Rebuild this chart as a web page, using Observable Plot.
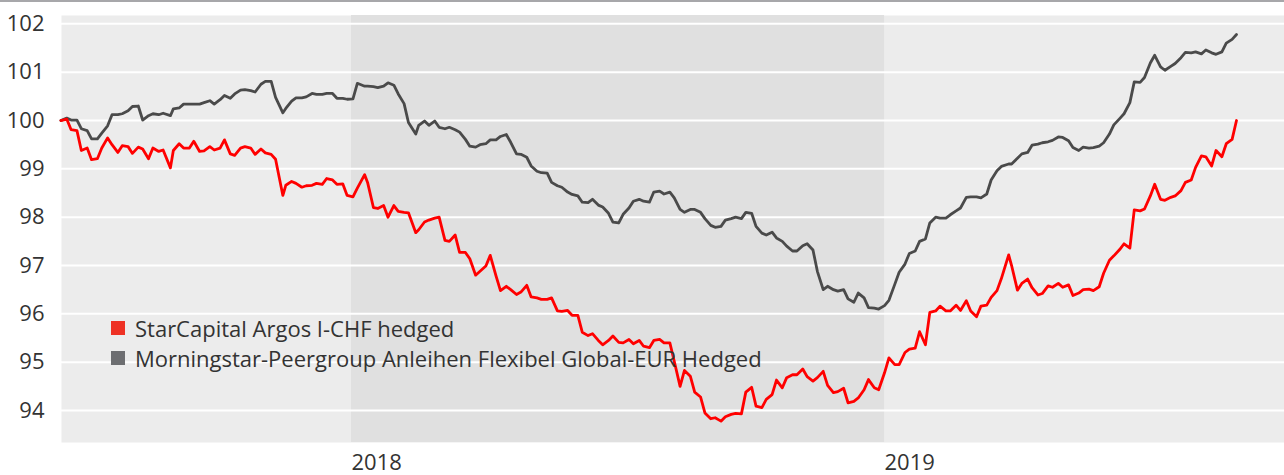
<!DOCTYPE html>
<html><head><meta charset="utf-8">
<script src="https://cdn.jsdelivr.net/npm/d3@7"></script>
<script src="https://cdn.jsdelivr.net/npm/@observablehq/plot@0.6"></script>
<style>
body{margin:0;background:#fff;font-family:"Open Sans",sans-serif;}
#wrap{position:relative;width:1284px;height:475px;overflow:hidden;}
#topline{position:absolute;left:0;top:0;width:1284px;height:2px;background:#a7a7aa;}
#legend{position:absolute;left:111px;top:313px;font-size:22px;color:#333;line-height:30px;}
.item{display:flex;align-items:center;height:30px;}
.sw{width:14px;height:14px;margin-right:10px;flex:none;}
</style></head><body>
<div id="wrap"><div id="chart"></div><div id="topline"></div><div id="legend"></div></div>
<script>
const seriesNames = ["StarCapital Argos I-CHF hedged", "Morningstar-Peergroup Anleihen Flexibel Global-EUR Hedged"];
const seriesColors = ["#ff0000", "#4a4a4a"];
const legendColors = ["#ee3124", "#6d6e71"];
const yTicks = [94, 95, 96, 97, 98, 99, 100, 101, 102];
const xTickYears = ["2018", "2019"];
const shadedYear = ["2018-01-01", "2019-01-01"];

// one line per month
const dates = [
"2017-06-16","2017-06-20","2017-06-23","2017-06-27","2017-06-30",
"2017-07-04","2017-07-07","2017-07-11","2017-07-14","2017-07-18","2017-07-21","2017-07-25","2017-07-28",
"2017-08-01","2017-08-04","2017-08-08","2017-08-11","2017-08-15","2017-08-18","2017-08-22","2017-08-25","2017-08-30",
"2017-09-01","2017-09-05","2017-09-08","2017-09-12","2017-09-15","2017-09-19","2017-09-22","2017-09-26","2017-09-29",
"2017-10-03","2017-10-06","2017-10-10","2017-10-13","2017-10-17","2017-10-20","2017-10-24","2017-10-27","2017-10-31",
"2017-11-03","2017-11-07","2017-11-10","2017-11-15","2017-11-17","2017-11-21","2017-11-24","2017-11-28",
"2017-12-01","2017-12-05","2017-12-08","2017-12-12","2017-12-15","2017-12-19","2017-12-22","2017-12-26","2017-12-29",
"2018-01-02","2018-01-05","2018-01-10","2018-01-12","2018-01-16","2018-01-19","2018-01-23","2018-01-26","2018-01-30",
"2018-02-02","2018-02-06","2018-02-09","2018-02-14","2018-02-16","2018-02-20","2018-02-23","2018-02-27",
"2018-03-02","2018-03-06","2018-03-09","2018-03-13","2018-03-16","2018-03-20","2018-03-23","2018-03-27","2018-03-30",
"2018-04-03","2018-04-06","2018-04-10","2018-04-13","2018-04-17","2018-04-20","2018-04-24","2018-04-27",
"2018-05-01","2018-05-04","2018-05-08","2018-05-11","2018-05-15","2018-05-18","2018-05-22","2018-05-25","2018-05-29",
"2018-06-01","2018-06-05","2018-06-08","2018-06-12","2018-06-15","2018-06-19","2018-06-22","2018-06-26","2018-06-29",
"2018-07-03","2018-07-06","2018-07-10","2018-07-13","2018-07-17","2018-07-20","2018-07-24","2018-07-27","2018-07-31",
"2018-08-03","2018-08-07","2018-08-10","2018-08-14","2018-08-17","2018-08-21","2018-08-24","2018-08-28","2018-08-31",
"2018-09-04","2018-09-07","2018-09-11","2018-09-14","2018-09-18","2018-09-21","2018-09-25","2018-09-28",
"2018-10-02","2018-10-05","2018-10-09","2018-10-12","2018-10-16","2018-10-19","2018-10-23","2018-10-26","2018-10-30",
"2018-11-02","2018-11-06","2018-11-09","2018-11-13","2018-11-16","2018-11-20","2018-11-23","2018-11-27","2018-11-30",
"2018-12-04","2018-12-07","2018-12-11","2018-12-14","2018-12-18","2018-12-21","2018-12-25","2018-12-28",
"2019-01-01","2019-01-04","2019-01-08","2019-01-11","2019-01-15","2019-01-18","2019-01-22","2019-01-25","2019-01-29",
"2019-02-01","2019-02-05","2019-02-08","2019-02-12","2019-02-15","2019-02-19","2019-02-22","2019-02-26",
"2019-03-01","2019-03-05","2019-03-08","2019-03-12","2019-03-15","2019-03-19","2019-03-22","2019-03-27","2019-03-29",
"2019-04-02","2019-04-05","2019-04-09","2019-04-12","2019-04-16","2019-04-19","2019-04-23","2019-04-26","2019-04-30",
"2019-05-03","2019-05-07","2019-05-10","2019-05-14","2019-05-17","2019-05-21","2019-05-24","2019-05-28","2019-05-31",
"2019-06-04","2019-06-07","2019-06-11","2019-06-14","2019-06-18","2019-06-21","2019-06-25","2019-06-28",
"2019-07-02","2019-07-05","2019-07-09","2019-07-12","2019-07-16","2019-07-19","2019-07-23","2019-07-26","2019-07-30",
"2019-08-02","2019-08-06","2019-08-09","2019-08-13","2019-08-16","2019-08-20","2019-08-23","2019-08-27","2019-08-30"
];

const starCapital = [
100.00,100.03,99.81,99.79,99.38,
99.43,99.19,99.21,99.43,99.64,99.50,99.34,99.48,
99.46,99.32,99.45,99.41,99.21,99.43,99.36,99.39,99.02,
99.38,99.52,99.43,99.43,99.57,99.36,99.37,99.46,99.39,
99.43,99.60,99.31,99.28,99.43,99.46,99.43,99.30,99.41,
99.33,99.30,99.20,98.45,98.66,98.74,98.70,98.62,
98.65,98.66,98.70,98.68,98.80,98.77,98.68,98.69,98.45,
98.42,98.60,98.88,98.72,98.20,98.18,98.24,98.00,98.24,
98.12,98.10,98.09,97.68,97.74,97.90,97.94,97.98,
98.00,97.52,97.50,97.63,97.27,97.27,97.14,96.80,96.88,
96.99,97.21,96.78,96.48,96.57,96.50,96.40,96.45,
96.59,96.35,96.33,96.30,96.30,96.33,96.06,96.05,96.07,
95.97,95.97,95.62,95.55,95.59,95.45,95.36,95.45,95.54,
95.41,95.40,95.47,95.38,95.45,95.33,95.30,95.45,95.47,
95.40,95.40,95.02,94.50,94.83,94.71,94.38,94.28,93.95,
93.83,93.85,93.78,93.87,93.92,93.94,93.93,94.38,
94.48,94.09,94.06,94.23,94.33,94.63,94.47,94.68,94.74,
94.74,94.86,94.70,94.61,94.68,94.81,94.52,94.37,94.39,
94.46,94.16,94.19,94.26,94.43,94.64,94.47,94.43,
94.78,95.09,94.95,94.95,95.20,95.27,95.29,95.63,95.36,
96.03,96.06,96.16,96.06,96.06,96.18,96.07,96.27,
96.06,95.94,96.16,96.18,96.34,96.48,96.73,97.22,97.00,
96.49,96.63,96.72,96.54,96.39,96.42,96.58,96.55,96.63,
96.55,96.60,96.38,96.43,96.50,96.51,96.48,96.56,96.84,
97.11,97.20,97.33,97.45,97.36,98.15,98.13,98.17,
98.44,98.68,98.37,98.35,98.41,98.44,98.55,98.72,98.77,
99.03,99.27,99.25,99.06,99.38,99.25,99.52,99.61,100.00
];

const peergroup = [
100.00,100.05,100.01,100.01,99.83,
99.79,99.62,99.62,99.74,99.89,100.12,100.12,100.14,
100.20,100.29,100.30,100.01,100.10,100.14,100.12,100.15,100.10,
100.24,100.26,100.34,100.34,100.34,100.34,100.37,100.41,100.34,
100.43,100.52,100.46,100.55,100.63,100.64,100.62,100.59,100.75,
100.81,100.81,100.48,100.16,100.25,100.40,100.47,100.47,
100.49,100.56,100.54,100.54,100.56,100.56,100.46,100.46,100.44,
100.45,100.77,100.71,100.71,100.70,100.68,100.71,100.78,100.73,
100.55,100.35,99.96,99.72,99.90,99.99,99.90,99.99,
99.86,99.83,99.86,99.81,99.76,99.61,99.47,99.45,99.50,
99.52,99.60,99.60,99.67,99.71,99.55,99.31,99.30,
99.24,99.06,98.95,98.92,98.91,98.72,98.65,98.62,98.52,
98.47,98.44,98.31,98.30,98.37,98.25,98.21,98.08,97.90,
97.88,98.06,98.19,98.33,98.37,98.33,98.31,98.52,98.54,
98.48,98.52,98.40,98.16,98.10,98.16,98.16,98.10,97.97,
97.83,97.79,97.81,97.94,97.97,98.00,97.97,98.10,
98.08,97.81,97.67,97.63,97.69,97.57,97.50,97.40,97.30,
97.30,97.41,97.45,97.32,96.88,96.50,96.57,96.50,96.47,
96.50,96.31,96.24,96.43,96.33,96.13,96.12,96.10,
96.17,96.28,96.61,96.86,97.03,97.25,97.30,97.50,97.55,
97.88,98.00,97.98,97.98,98.05,98.13,98.19,98.41,
98.42,98.42,98.40,98.48,98.77,98.96,99.05,99.10,99.10,
99.22,99.31,99.34,99.49,99.51,99.54,99.56,99.59,99.66,
99.65,99.58,99.44,99.38,99.45,99.43,99.44,99.47,99.54,
99.72,99.91,100.04,100.14,100.37,100.80,100.79,100.89,
101.19,101.35,101.11,101.04,101.12,101.18,101.30,101.41,101.40,
101.42,101.38,101.46,101.40,101.37,101.42,101.60,101.68,101.78
];

const parse = d3.utcParse("%Y-%m-%d");
const redRows = dates.map((d, i) => ({date: parse(d), value: starCapital[i]}));
const grayRows = dates.map((d, i) => ({date: parse(d), value: peergroup[i]}));
const yDomain = [93.338, 102.173];
const xDomain = [new Date("2017-06-16T10:00:00Z"), new Date("2019-10-01T21:00:00Z")];
const band = [{x1: parse(shadedYear[0]), x2: parse(shadedYear[1])}];
const xTicks = xTickYears.map(y => parse(y + "-01-01"));

const chart = Plot.plot({
  width: 1284, height: 475,
  marginLeft: 61, marginRight: 0, marginTop: 15, marginBottom: 33,
  x: {type: "utc", domain: xDomain, label: null},
  y: {domain: yDomain, label: null},
  style: {fontFamily: "'Open Sans', sans-serif", fontSize: "22px", color: "#333", background: "transparent"},
  marks: [
    Plot.frame({fill: "#ececec", stroke: null}),
    Plot.rect(band, {x1: "x1", x2: "x2", y1: yDomain[0], y2: yDomain[1], fill: "#e0e0e0"}),
    Plot.ruleY(yTicks, {stroke: "#ffffff", strokeWidth: 2}),
    Plot.axisY({ticks: yTicks, tickSize: 0, tickPadding: 17, fontSize: 22, fill: "#333", label: null}),
    Plot.axisX({ticks: xTicks, tickSize: 0, tickPadding: 12, fontSize: 22, fill: "#333", label: null,
      textAnchor: "start", tickFormat: (d, i) => xTickYears[i]}),
    Plot.line(grayRows, {x: "date", y: "value", stroke: seriesColors[1], strokeWidth: 2.8}),
    Plot.line(redRows, {x: "date", y: "value", stroke: seriesColors[0], strokeWidth: 2.8})
  ]
});
document.getElementById("chart").appendChild(chart);

const legend = document.getElementById("legend");
seriesNames.forEach((name, i) => {
  const item = document.createElement("div");
  item.className = "item";
  const sw = document.createElement("span");
  sw.className = "sw";
  sw.style.background = legendColors[i];
  const t = document.createElement("span");
  t.textContent = name;
  item.appendChild(sw); item.appendChild(t);
  legend.appendChild(item);
});
</script>
</body></html>
